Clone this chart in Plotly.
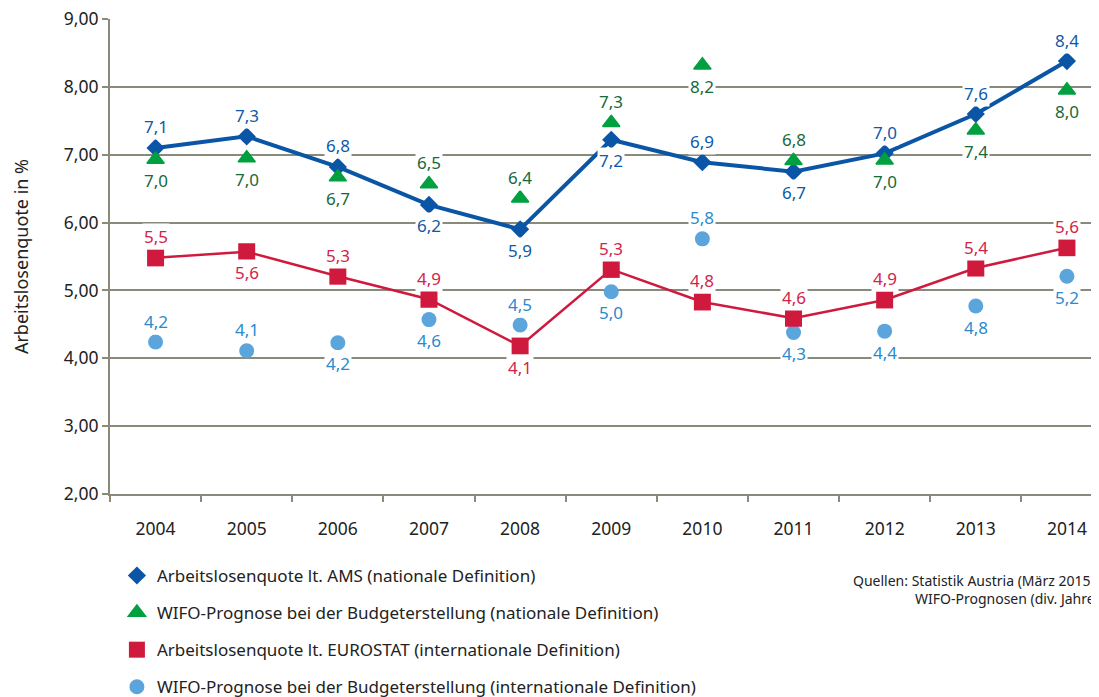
import plotly.graph_objects as go

# ── DATA ─────────────────────────────────────────────────────────
years = ["2004", "2005", "2006", "2007", "2008", "2009",
         "2010", "2011", "2012", "2013", "2014"]

ams_values = [7.10, 7.27, 6.82, 6.26, 5.90, 7.22, 6.89, 6.75, 7.02, 7.60, 8.38]
ams_labels = ["7,1", "7,3", "6,8", "6,2", "5,9", "7,2", "6,9", "6,7", "7,0", "7,6", "8,4"]

wifo_nat_values = [6.93, 6.95, 6.67, 6.57, 6.36, 7.47, 8.32, 6.91, 6.92, 7.36, 7.95]
wifo_nat_labels = ["7,0", "7,0", "6,7", "6,5", "6,4", "7,3", "8,2", "6,8", "7,0", "7,4", "8,0"]

eurostat_values = [5.48, 5.57, 5.21, 4.87, 4.18, 5.31, 4.83, 4.59, 4.86, 5.33, 5.63]
eurostat_labels = ["5,5", "5,6", "5,3", "4,9", "4,1", "5,3", "4,8", "4,6", "4,9", "5,4", "5,6"]

wifo_int_values = [4.24, 4.11, 4.23, 4.57, 4.49, 4.98, 5.76, 4.38, 4.40, 4.77, 5.21]
wifo_int_labels = ["4,2", "4,1", "4,2", "4,6", "4,5", "5,0", "5,8", "4,3", "4,4", "4,8", "5,2"]

y_ticks = [2, 3, 4, 5, 6, 7, 8, 9]

# label placement: +1 above the marker, -1 below
ams_side      = [1, 1, 1, -1, -1, -1, 1, -1, 1, 1, 1]
wifo_nat_side = [-1, -1, -1, 1, 1, 1, -1, 1, -1, -1, -1]
eurostat_side = [1, -1, 1, 1, -1, 1, 1, 1, 1, 1, 1]
wifo_int_side = [1, 1, -1, -1, 1, -1, 1, -1, -1, -1, -1]

# ── STYLE ────────────────────────────────────────────────────────
FONT = "Noto Sans"
BLUE = "#0a55a5"
GREEN = "#00a040"
RED = "#cf1a3e"
LIGHTBLUE = "#5ca4dc"
GRID = "#8a8a7a"

fig = go.Figure()

# circles (drawn first so the squares sit on top)
fig.add_trace(go.Scatter(
    x=years, y=wifo_int_values, mode="markers",
    name="WIFO-Prognose bei der Budgeterstellung (internationale Definition)",
    marker=dict(symbol="circle", size=15, color=LIGHTBLUE),
    legendgroup="d", legendrank=4,
))

fig.add_trace(go.Scatter(
    x=years, y=eurostat_values, mode="lines",
    line=dict(color=RED, width=2.5), showlegend=False,
))
fig.add_trace(go.Scatter(
    x=years, y=eurostat_values, mode="markers",
    name="Arbeitslosenquote lt. EUROSTAT (internationale Definition)",
    marker=dict(symbol="square", size=17, color=RED),
    legendgroup="c", legendrank=3,
))

fig.add_trace(go.Scatter(
    x=years, y=ams_values, mode="lines",
    line=dict(color=BLUE, width=4), showlegend=False,
))
fig.add_trace(go.Scatter(
    x=years, y=ams_values, mode="markers",
    name="Arbeitslosenquote lt. AMS (nationale Definition)",
    marker=dict(symbol="diamond", size=14, color=BLUE),
    legendgroup="a", legendrank=1,
))

fig.add_trace(go.Scatter(
    x=years, y=wifo_nat_values, mode="markers",
    name="WIFO-Prognose bei der Budgeterstellung (nationale Definition)",
    marker=dict(symbol="triangle-up", size=15, color=GREEN,
                line=dict(color=GREEN, width=1.5)),
    legendgroup="b", legendrank=2,
))

# ── DATA LABELS ──────────────────────────────────────────────────
annotations = []
series = [
    (ams_values, ams_labels, ams_side, "#0d5aa8"),
    (wifo_nat_values, wifo_nat_labels, wifo_nat_side, "#17693a"),
    (eurostat_values, eurostat_labels, eurostat_side, "#d4234a"),
    (wifo_int_values, wifo_int_labels, wifo_int_side, "#2b8acf"),
]
for vals, labels, sides, col in series:
    for i, (v, lab, s) in enumerate(zip(vals, labels, sides)):
        annotations.append(dict(
            x=i, y=v, text=lab, showarrow=False,
            yshift=21 * s, bgcolor="white", borderpad=1,
            font=dict(family=FONT, size=17, color=col),
        ))

annotations.append(dict(
    xref="paper", yref="paper", x=1.0, y=-0.158,
    xanchor="right", yanchor="top", align="right", showarrow=False,
    text="Quellen: Statistik Austria (März 2015)<br>WIFO-Prognosen (div. Jahre",
    font=dict(family=FONT, size=14, color="#222"),
))

# legend top in container units (plotly keeps at least height*y px of
# bottom margin for it, which stays below the margin set here)
LEGEND_Y = 0.211

# the page body adds an 8px offset, margins are set with that in mind
fig.update_layout(
    width=1099, height=697,
    margin=dict(l=102, r=10, t=11, b=211),
    plot_bgcolor="white", paper_bgcolor="white",
    font=dict(family=FONT, size=16, color="#222"),
    separators=",.",
    annotations=annotations,
    legend=dict(
        xref="paper", yref="container",
        x=0.007, y=LEGEND_Y, xanchor="left", yanchor="top",
        orientation="v", tracegroupgap=12,
        font=dict(family=FONT, size=17, color="#222"),
        bgcolor="rgba(0,0,0,0)",
    ),
    xaxis=dict(
        type="category", range=[-0.5, 10.33], automargin=False,
        showgrid=False, zeroline=False,
        showline=True, linecolor=GRID, linewidth=2,
        ticks="outside", tickson="boundaries", ticklen=6,
        tickcolor=GRID, tickwidth=2, ticklabelstandoff=18,
        tickfont=dict(family=FONT, size=17.5, color="#222"),
    ),
    yaxis=dict(
        range=[2, 9], tickvals=y_ticks, tickformat=".2f", automargin=False,
        ticklabeloverflow="allow",
        showgrid=True, gridcolor=GRID, gridwidth=2, zeroline=False,
        showline=True, linecolor=GRID, linewidth=2,
        ticks="outside", ticklen=6, tickcolor=GRID, tickwidth=2,
        tickfont=dict(family=FONT, size=17.5, color="#222"),
        title=dict(text="Arbeitslosenquote in %", standoff=30,
                   font=dict(family=FONT, size=18, color="#222")),
    ),
)

fig.write_html("out.html")
